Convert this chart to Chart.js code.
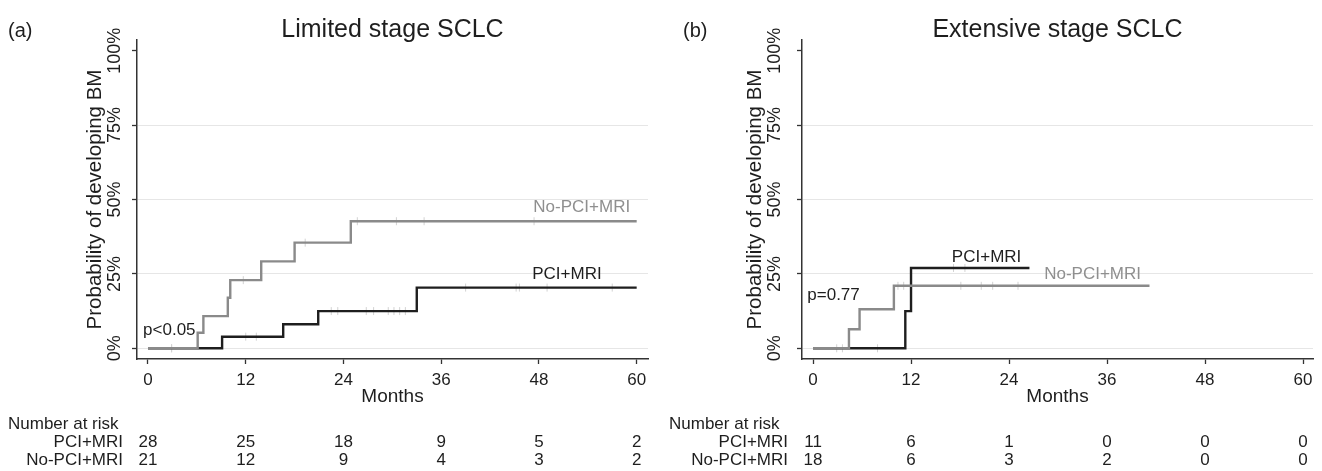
<!DOCTYPE html>
<html>
<head>
<meta charset="utf-8">
<title>Brain metastases in SCLC</title>
<script src="https://cdn.jsdelivr.net/npm/chart.js@4.4.1/dist/chart.umd.min.js"></script>
<style>
  html, body { margin: 0; padding: 0; background: #fff; }
  #wrap { position: relative; width: 1322px; height: 471px; overflow: hidden; }
  canvas { position: absolute; top: 0; }
  #limited { left: 0; }
  #extensive { left: 661px; }
</style>
</head>
<body>
<div id="wrap">
  <canvas id="limited" width="661" height="471"></canvas>
  <canvas id="extensive" width="661" height="471"></canvas>
</div>
<script>
const monthTicks = [0, 12, 24, 36, 48, 60];
const probTicks = [0, 25, 50, 75, 100];

// (a) limited stage: step times (months) and cumulative probability (%)
const limNoPciTimes = [0, 6.1, 6.8, 9.8, 10.1, 13.9, 18.0, 24.9, 60];
const limNoPciProb  = [0, 5.2, 10.8, 17.0, 22.9, 29.2, 35.5, 42.7, 42.7];
const limPciTimes = [0, 9.1, 16.6, 20.9, 33.0, 60];
const limPciProb  = [0, 3.9, 8.1, 12.5, 20.4, 20.4];
const limNoPciCensored = [2.9, 11.7, 19.3, 25.7, 30.5, 33.9, 47.4];
const limPciCensored = [2.9, 12.0, 13.3, 22.5, 23.3, 26.8, 27.7, 29.5, 30.2, 30.9, 31.6, 39.0, 45.2, 45.6, 49.0, 57.0];
const limRiskPci = [28, 25, 18, 9, 5, 2];
const limRiskNoPci = [21, 12, 9, 4, 3, 2];

// (b) extensive stage
const extNoPciTimes = [0, 4.4, 5.7, 9.9, 41.2];
const extNoPciProb  = [0, 6.4, 13.1, 21.0, 21.0];
const extPciTimes = [0, 11.3, 12.0, 26.5];
const extPciProb  = [0, 12.5, 27.0, 27.0];
const extNoPciCensored = [2.9, 3.6, 10.4, 11.1, 18.1, 20.6, 22.0, 25.1];
const extPciCensored = [7.9, 17.2, 18.6];
const extRiskPci = [11, 6, 1, 0, 0, 0];
const extRiskNoPci = [18, 6, 3, 2, 0, 0];

const DARK = "#1e1e1e";
const GRAY = "#8a8a8a";
const GRAY_TEXT = "#8f8f8f";
const AXIS = "#333333";
const GRID = "#e6e6e6";
const CENSOR = "#d2d2d2";
const FONT = '"Liberation Sans", Arial, Helvetica, sans-serif';

Chart.defaults.font.family = FONT;
Chart.defaults.color = DARK;

toPoints = (times, probs) => times.map((t, i) => ({ x: t, y: probs[i] }));

// value of the step curve at time t (for placing censor marks)
probAt = (times, probs, t) => {
    let p = probs[0];
    times.forEach((tt, i) => { if (tt <= t) p = probs[i]; });
    return p;
};

censorPoints = (cens, times, probs) => cens.map(t => ({ x: t, y: probAt(times, probs, t) }));

const panelText = {
    id: "panelText",
    afterDraw(chart, args, opts) {
        const ctx = chart.ctx;
        const xs = chart.scales.x, ys = chart.scales.y;
        ctx.save();
        ctx.textBaseline = "middle";

        ctx.font = "20px " + FONT;
        ctx.fillStyle = DARK;
        ctx.textAlign = "left";
        ctx.fillText(opts.letter, opts.letterX, 31);

        ctx.font = "17px " + FONT;
        opts.labels.forEach(l => {
            ctx.fillStyle = l.color;
            ctx.textAlign = l.align;
            ctx.fillText(l.text, xs.getPixelForValue(l.month), ys.getPixelForValue(l.prob));
        });

        // number at risk table
        ctx.fillStyle = DARK;
        ctx.textAlign = "left";
        ctx.fillText("Number at risk", 8, 424);
        opts.risk.forEach((row, r) => {
            const rowY = 442 + r * 18;
            ctx.textAlign = "right";
            ctx.fillText(row.name, chart.chartArea.left - 14, rowY);
            ctx.textAlign = "center";
            row.counts.forEach((n, i) => {
                ctx.fillText(String(n), xs.getPixelForValue(monthTicks[i]), rowY);
            });
        });
        ctx.restore();
    }
};

makeChart = (id, cfg) => new Chart(document.getElementById(id), {
    type: "line",
    data: {
        datasets: [
            {
                label: "No-PCI+MRI",
                data: toPoints(cfg.noPciTimes, cfg.noPciProb),
                stepped: "before",
                borderColor: GRAY,
                borderWidth: 2.4,
                pointRadius: 0,
                fill: false
            },
            {
                label: "PCI+MRI",
                data: toPoints(cfg.pciTimes, cfg.pciProb),
                stepped: "before",
                borderColor: DARK,
                borderWidth: 2.4,
                pointRadius: 0,
                fill: false
            },
            {
                label: "censored PCI",
                data: censorPoints(cfg.pciCens, cfg.pciTimes, cfg.pciProb),
                showLine: false,
                pointStyle: "line",
                pointRotation: 90,
                pointRadius: 4,
                pointBorderColor: CENSOR,
                pointBorderWidth: 1
            },
            {
                label: "censored No-PCI",
                data: censorPoints(cfg.noPciCens, cfg.noPciTimes, cfg.noPciProb),
                showLine: false,
                pointStyle: "line",
                pointRotation: 90,
                pointRadius: 4,
                pointBorderColor: CENSOR,
                pointBorderWidth: 1
            }
        ]
    },
    options: {
        responsive: false,
        animation: false,
        layout: { padding: { left: 0, right: cfg.padRight, top: 0, bottom: 0 } },
        plugins: {
            legend: { display: false },
            tooltip: { enabled: false },
            title: {
                display: true,
                text: cfg.title,
                fullSize: false,
                color: DARK,
                font: { size: 25, weight: "normal", lineHeight: 1 },
                padding: { top: 18, bottom: -3 }
            },
            panelText: {
                letter: cfg.letter,
                letterX: cfg.letterX,
                labels: cfg.labels,
                risk: cfg.risk
            }
        },
        scales: {
            x: {
                type: "linear",
                min: -1.35,
                max: cfg.xMax,
                afterBuildTicks: s => { s.ticks = monthTicks.map(v => ({ value: v })); },
                afterFit: s => { s.height = 112; },
                ticks: { autoSkip: false, maxRotation: 0, padding: 6, color: DARK, font: { size: 17 } },
                grid: { drawOnChartArea: false, tickLength: 5, tickColor: AXIS, tickWidth: 1.3 },
                border: { color: AXIS, width: 1.5 },
                title: {
                    display: true,
                    text: "Months",
                    color: DARK,
                    font: { size: 19 },
                    padding: { top: 63, bottom: 63 }
                }
            },
            y: {
                type: "linear",
                min: -3.6,
                max: 103.6,
                afterBuildTicks: s => { s.ticks = probTicks.map(v => ({ value: v })); },
                afterFit: s => { s.width = cfg.yWidth; },
                ticks: {
                    autoSkip: false,
                    minRotation: 90,
                    maxRotation: 90,
                    crossAlign: "center",
                    padding: cfg.yTickPad,
                    color: DARK,
                    font: { size: 18 },
                    callback: v => v + "%"
                },
                grid: {
                    color: c => (c.tick && c.tick.value === 100) ? "rgba(0,0,0,0)" : GRID,
                    lineWidth: 1,
                    tickLength: 5,
                    tickColor: AXIS,
                    tickWidth: 1.3
                },
                border: { color: AXIS, width: 1.5 },
                title: {
                    display: true,
                    text: "Probability of developing BM",
                    color: DARK,
                    font: { size: 20.5 },
                    padding: { top: cfg.yTitlePad, bottom: cfg.yTitlePad }
                }
            }
        }
    },
    plugins: [panelText]
});

makeChart("limited", {
    title: "Limited stage SCLC",
    letter: "(a)",
    letterX: 8,
    padRight: 13,
    xMax: 61.39,
    yWidth: 137,
    yTickPad: -6,
    yTitlePad: 83,
    noPciTimes: limNoPciTimes, noPciProb: limNoPciProb, noPciCens: limNoPciCensored,
    pciTimes: limPciTimes, pciProb: limPciProb, pciCens: limPciCensored,
    labels: [
        { text: "No-PCI+MRI", month: 59.2, prob: 47.5, color: GRAY_TEXT, align: "right" },
        { text: "PCI+MRI", month: 55.7, prob: 25.0, color: DARK, align: "right" },
        { text: "p<0.05", month: -0.6, prob: 6.2, color: DARK, align: "left" }
    ],
    risk: [
        { name: "PCI+MRI", counts: limRiskPci },
        { name: "No-PCI+MRI", counts: limRiskNoPci }
    ]
});

makeChart("extensive", {
    title: "Extensive stage SCLC",
    letter: "(b)",
    letterX: 22,
    padRight: 9,
    xMax: 61.22,
    yWidth: 141,
    yTickPad: -1,
    yTitlePad: 82,
    noPciTimes: extNoPciTimes, noPciProb: extNoPciProb, noPciCens: extNoPciCensored,
    pciTimes: extPciTimes, pciProb: extPciProb, pciCens: extPciCensored,
    labels: [
        { text: "PCI+MRI", month: 17.0, prob: 30.5, color: DARK, align: "left" },
        { text: "No-PCI+MRI", month: 28.3, prob: 25.0, color: GRAY_TEXT, align: "left" },
        { text: "p=0.77", month: -0.7, prob: 17.9, color: DARK, align: "left" }
    ],
    risk: [
        { name: "PCI+MRI", counts: extRiskPci },
        { name: "No-PCI+MRI", counts: extRiskNoPci }
    ]
});
</script>
</body>
</html>
